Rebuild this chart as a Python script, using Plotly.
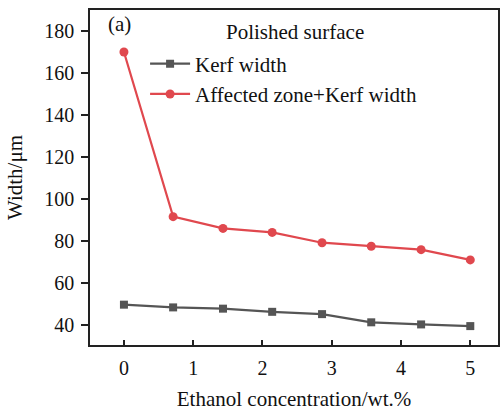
import plotly.graph_objects as go

ethanol = [0, 0.71, 1.43, 2.14, 2.86, 3.57, 4.29, 5]
kerf_width = [49.7, 48.4, 47.8, 46.3, 45.2, 41.3, 40.3, 39.5]
affected_kerf = [170.0, 91.6, 86.0, 84.1, 79.2, 77.5, 75.9, 71.0]
x_ticks = [0, 1, 2, 3, 4, 5]
y_ticks = [40, 60, 80, 100, 120, 140, 160, 180]

FONT = "Liberation Serif"
FS = 21
TFS = 20
fig = go.Figure()
fig.add_trace(go.Scatter(x=ethanol, y=kerf_width, mode="lines+markers", name="Kerf width",
                         line=dict(color="#555555", width=2.2),
                         marker=dict(symbol="square", size=8, color="#555555")))
fig.add_trace(go.Scatter(x=ethanol, y=affected_kerf, mode="lines+markers", name="Affected zone+Kerf width",
                         line=dict(color="#e0484e", width=2.2),
                         marker=dict(symbol="circle", size=9, color="#e0484e")))

fig.update_layout(
    width=501, height=411, margin=dict(l=90, r=1, t=10, b=66),
    paper_bgcolor="white", plot_bgcolor="white",
    font=dict(family=FONT, size=FS, color="#111111"),
    showlegend=True,
    legend=dict(x=0.135, y=0.90, xanchor="left", yanchor="top", bgcolor="rgba(0,0,0,0)",
                font=dict(family=FONT, size=FS), tracegroupgap=0, itemwidth=40),
    xaxis=dict(range=[-0.49, 5.4], tickvals=x_ticks, ticks="inside", ticklen=5, tickwidth=1.5,
               tickcolor="#222", showline=True, linecolor="#222", linewidth=1.5, mirror=True,
               showgrid=False, zeroline=False, tickfont=dict(family=FONT, size=TFS),
               ticklabelstandoff=4,
               title=dict(text="Ethanol concentration/wt.%", font=dict(family=FONT, size=FS), standoff=16)),
    yaxis=dict(range=[30.5, 190], tickvals=y_ticks, ticks="outside", ticklen=7, tickwidth=1.5,
               tickcolor="#222", showline=True, linecolor="#222", linewidth=1.5, mirror=True,
               showgrid=False, zeroline=False, tickfont=dict(family=FONT, size=TFS),
               ticklabelstandoff=3,
               title=dict(text="Width/μm", font=dict(family=FONT, size=FS), standoff=16)),
    annotations=[
        dict(text="(a)", x=0.04, y=1.0, xref="paper", yref="paper", xanchor="left", yanchor="top",
             showarrow=False, font=dict(family=FONT, size=FS)),
        dict(text="Polished surface", x=0.502, y=0.975, xref="paper", yref="paper", xanchor="center",
             yanchor="top", showarrow=False, font=dict(family=FONT, size=FS)),
    ],
)
fig.write_html("out.html")
